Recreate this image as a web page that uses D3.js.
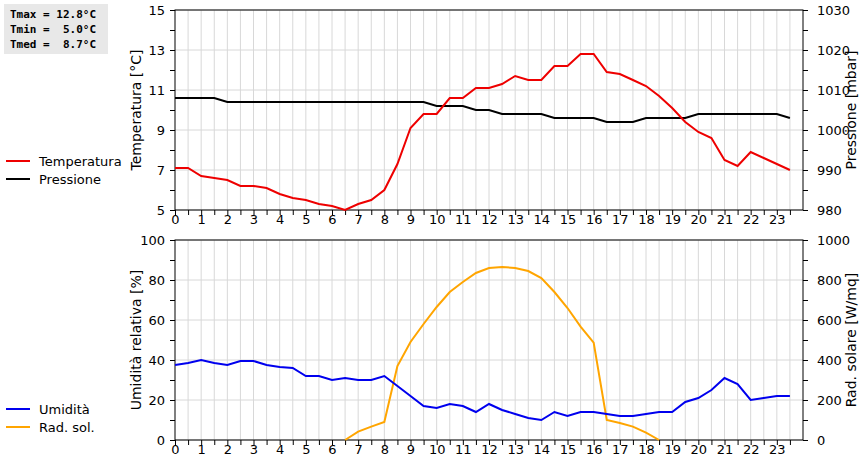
<!DOCTYPE html><html><head><meta charset="utf-8">
<script src="https://d3js.org/d3.v7.min.js"></script>
<style>body{margin:0;background:#fff}text{font-family:"DejaVu Sans",sans-serif}</style></head><body>
<svg id="c" width="860" height="460"></svg>
<script>
const hours = d3.range(48).map(i=>i/2);
const temperatura = [7.1,7.1,6.7,6.6,6.5,6.2,6.2,6.1,5.8,5.6,5.5,5.3,5.2,5.0,5.3,5.5,6.0,7.3,9.1,9.8,9.8,10.6,10.6,11.1,11.1,11.3,11.7,11.5,11.5,12.2,12.2,12.8,12.8,11.9,11.8,11.5,11.2,10.7,10.1,9.4,8.9,8.6,7.5,7.2,7.9,7.6,7.3,7.0];
const pressione = [1008,1008,1008,1008,1007,1007,1007,1007,1007,1007,1007,1007,1007,1007,1007,1007,1007,1007,1007,1007,1006,1006,1006,1005,1005,1004,1004,1004,1004,1003,1003,1003,1003,1002,1002,1002,1003,1003,1003,1003,1004,1004,1004,1004,1004,1004,1004,1003];
const umidita = [37.5,38.5,40,38.5,37.5,39.5,39.5,37.5,36.5,36,32,32,30,31,30,30,32,27,22,17,16,18,17,14,18,15,13,11,10,14,12,14,14,13,12,12,13,14,14,19,21,25,31,28,20,21,22,22];
const radSolare = [0,0,0,0,0,0,0,0,0,0,0,0,0,0,42,67,90,370,490,580,665,740,790,835,860,865,860,845,810,740,660,567,487,100,85,67,37,0,0,0,0,0,0,0,0,0,0,0];
const statsLines = ["Tmax = 12.8°C","Tmin =  5.0°C","Tmed =  8.7°C"];

const svg = d3.select("#c");
const X0=175, X1=803;
const x = d3.scaleLinear().domain([0,24]).range([X0,X1]);

function panel(top, bot, lDom, lTicks, lMinor, rDom, rTicks, rMinor, lLabel, rLabel, s1, c1, s2, c2, def2){
  const yl = d3.scaleLinear().domain(lDom).range([bot,top]);
  const yr = d3.scaleLinear().domain(rDom).range([bot,top]);
  const g = svg.append("g");
  g.selectAll(".vg").data(d3.range(0.5,24,0.5)).join("line")
    .attr("x1",d=>x(d)).attr("x2",d=>x(d)).attr("y1",top).attr("y2",bot).attr("stroke","#d8d8d8");
  g.selectAll(".hg").data(lTicks).join("line")
    .attr("x1",X0).attr("x2",X1).attr("y1",d=>yl(d)).attr("y2",d=>yl(d)).attr("stroke","#d8d8d8");
  const ax = d3.axisBottom(x).tickValues(d3.range(0,24,0.5)).tickSize(5)
    .tickFormat(d=>Number.isInteger(d)?d:"");
  const ga=g.append("g").attr("transform",`translate(0,${bot})`).call(ax);
  const axL=d3.axisLeft(yl).tickValues(lMinor).tickSize(5).tickFormat(d=>lTicks.includes(d)?d:"");
  const gl=g.append("g").attr("transform",`translate(${X0},0)`).call(axL);
  const axR=d3.axisRight(yr).tickValues(rMinor).tickSize(5).tickFormat(d=>rTicks.includes(d)?d:"");
  const gr=g.append("g").attr("transform",`translate(${X1},0)`).call(axR);
  [ga,gl,gr].forEach(a=>{a.selectAll("text").attr("font-size",13).attr("fill","#000");a.select(".domain").remove();a.selectAll("line").attr("stroke","#000");});
  ga.selectAll("text").attr("y",4).attr("dy","0.75em");
  gl.selectAll("text").attr("dx","-2");
  gr.selectAll("text").attr("dx","6");
  g.append("rect").attr("x",X0).attr("y",top).attr("width",X1-X0).attr("height",bot-top).attr("fill","none").attr("stroke","#000");
  const ln1=d3.line().x((d,i)=>x(hours[i])).y(d=>yl(d));
  const ln2=d3.line().x((d,i)=>x(hours[i])).y(d=>yr(d)).defined(def2);
  g.append("path").attr("d",ln2(s2)).attr("fill","none").attr("stroke",c2).attr("stroke-width",2);
  g.append("path").attr("d",ln1(s1)).attr("fill","none").attr("stroke",c1).attr("stroke-width",2);
  const mid=(top+bot)/2;
  g.append("text").attr("transform",`translate(141,${mid}) rotate(-90)`).attr("text-anchor","middle").attr("font-size",14).text(lLabel);
  g.append("text").attr("transform",`translate(856,${mid}) rotate(-90)`).attr("text-anchor","middle").attr("font-size",14).text(rLabel);
}
panel(10,210,[5,15],[5,7,9,11,13,15],d3.range(5,16),[980,1030],[980,990,1000,1010,1020,1030],d3.range(980,1031,5),
  "Temperatura [°C]","Pressione [mbar]",temperatura,"#ee0000",pressione,"#000",()=>true);
panel(240,440,[0,100],[0,20,40,60,80,100],d3.range(0,101,10),[0,1000],[0,200,400,600,800,1000],d3.range(0,1001,100),
  "Umidità relativa [%]","Rad. solare [W/mq]",umidita,"#0000ee",radSolare,"#ffa500",
  (d,i,a)=>d>0||(a[i-1]>0)||(a[i+1]>0));

function legend(y, items){
  items.forEach(([t,c],i)=>{
    svg.append("line").attr("x1",6).attr("x2",30).attr("y1",y+i*18).attr("y2",y+i*18).attr("stroke",c).attr("stroke-width",2);
    svg.append("text").attr("x",39).attr("y",y+i*18+5).attr("font-size",13).text(t);
  });
}
legend(161,[["Temperatura","#ee0000"],["Pressione","#000"]]);
legend(409,[["Umidità","#0000ee"],["Rad. sol.","#ffa500"]]);

svg.append("rect").attr("x",4).attr("y",4).attr("width",104).attr("height",50).attr("fill","#e8e8e8");
statsLines.forEach((t,i)=>svg.append("text").attr("x",10).attr("y",18+i*15)
  .style("font-family","'DejaVu Sans Mono',monospace").style("font-size","11px").style("font-weight","bold")
  .style("white-space","pre").text(t));
</script></body></html>
